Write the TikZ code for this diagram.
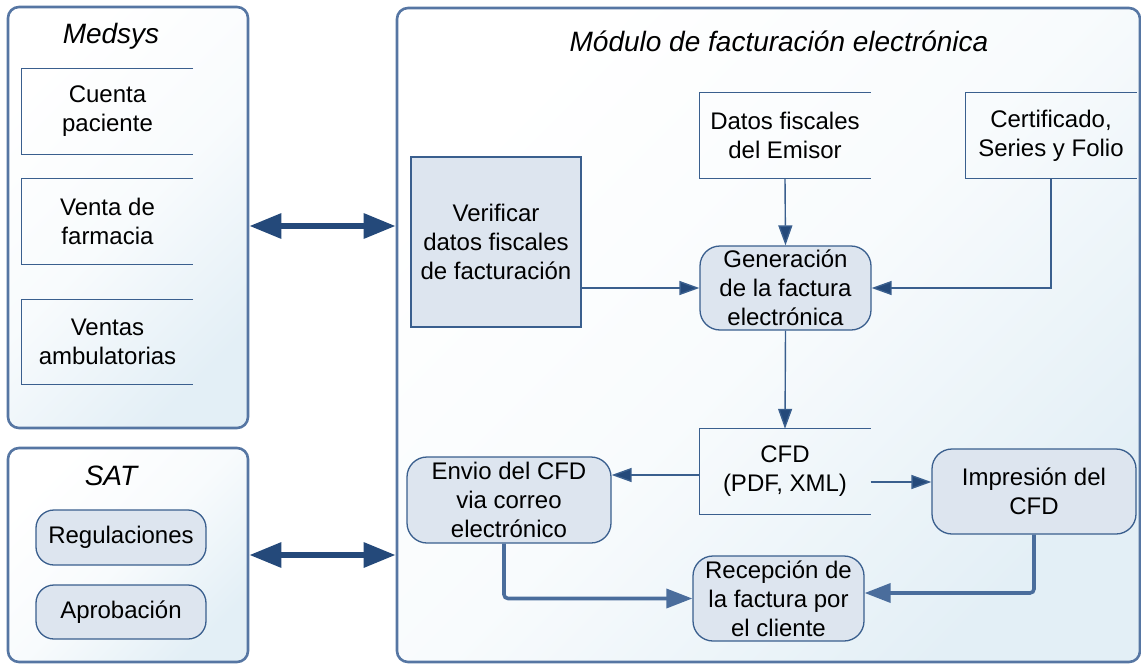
\documentclass[tikz,border=0pt]{standalone}
\usepackage{fontspec}
\setmainfont{Liberation Sans}
\usetikzlibrary{arrows.meta}
\definecolor{ln}{HTML}{3A5F8E}
\definecolor{arr}{HTML}{24497A}
\definecolor{boxfill}{HTML}{DDE5EF}
\definecolor{bgblue}{HTML}{E3EFF6}
\definecolor{frame}{HTML}{5676A3}
\definecolor{hatch}{HTML}{4A6D9C}
\begin{document}
\begin{tikzpicture}[x=1pt,y=-1pt,
  font=\fontsize{24}{29}\selectfont,
  container/.style={draw=frame, line width=2.6pt, rounded corners=11pt,
    top color=white, bottom color=bgblue, middle color=white!75!bgblue, shading angle=45, inner sep=0pt},
  ttl/.style={font=\fontsize{28}{32}\selectfont\itshape, anchor=base, inner sep=0pt},
  store/.style={minimum width=171pt, minimum height=85pt, inner sep=0pt, align=center},
  storeline/.style={draw=ln, line width=1.3pt},
  rbox/.style={draw=ln, line width=1.3pt, fill=boxfill, rounded corners=20pt,
    inner sep=0pt, align=center},
  sbox/.style={draw=ln, line width=1.3pt, fill=boxfill, inner sep=0pt, align=center},
  flow/.style={draw=ln, line width=1.4pt, -{Triangle[length=20pt,width=14pt,fill=arr]}},
  hflow/.style={draw=hatch, line width=3.6pt, rounded corners=4pt,
    -{Triangle[length=26pt,width=19pt,fill=hatch]}},
  dbl/.style={draw=arr, line width=6pt,
    {Triangle[length=32pt,width=24pt]}-{Triangle[length=32pt,width=24pt]}}
]
\useasboundingbox (0,0) rectangle (1141,664);

% containers
\node[container, minimum width=240pt, minimum height=421pt] (medsys) at (128,217.5) {};
\node[container, minimum width=240pt, minimum height=214pt] (sat) at (128,555) {};
\node[container, minimum width=743pt, minimum height=654pt] (main) at (768.5,335) {};

\node[ttl] (tmed) at (111,43) {Medsys};
\node[ttl] (tsat) at (111,485) {SAT};
\node[ttl] (tmain) at (779,51) {Módulo de facturación electrónica};

% Medsys data stores
\node[store] (cuenta) at (107.5,111.5) {Cuenta\\paciente};
\node[store] (venta) at (107.5,221.5) {Venta de\\farmacia};
\node[store] (ventas) at (107.5,342) {Ventas\\ambulatorias};
\foreach \n in {cuenta,venta,ventas}
  \draw[storeline] (\n.north east) -- (\n.north west) -- (\n.south west) -- (\n.south east);

% SAT boxes
\node[rbox, rounded corners=18pt, minimum width=170pt, minimum height=55pt] (regul) at (121,537.5) {Regulaciones};
\node[rbox, rounded corners=18pt, minimum width=170pt, minimum height=54pt] (aprob) at (121,612) {Aprobación};

% double arrows
\draw[dbl] ([yshift=-8.5pt]medsys.east) -- ([yshift=-8.5pt]medsys.east -| main.west);
\draw[dbl] (sat.east) -- (sat.east -| main.west);

% main module
\node[sbox, minimum width=170pt, minimum height=170pt] (verif) at (496,242) {Verificar\\datos fiscales\\de facturación};
\node[store] (datos) at (785,135.5) {Datos fiscales\\del Emisor};
\node[store] (cert) at (1051,135.5) {Certificado,\\Series y Folio};
\node[rbox, minimum width=171pt, minimum height=84pt] (gen) at (785.5,288) {Generación\\de la factura\\electrónica};
\node[store] (cfd) at (785,471.5) {CFD\\(PDF, XML)};
\foreach \n in {datos,cert,cfd}
  \draw[storeline] (\n.north east) -- (\n.north west) -- (\n.south west) -- (\n.south east);
\node[rbox, minimum width=204pt, minimum height=86pt] (envio) at (509,500) {Envio del CFD\\via correo\\electrónico};
\node[rbox, minimum width=204pt, minimum height=85pt] (impr) at (1034,491.5) {Impresión del\\CFD};
\node[rbox, minimum width=171pt, minimum height=85pt] (recep) at (778.5,598.5) {Recepción de\\la factura por\\el cliente};

% connectors
\draw[flow] (verif.east |- gen.west) -- (gen.west);
\draw[flow] (datos.south) -- (gen.north);
\draw[flow] (cert.south) |- (gen.east);
\draw[flow] (gen.south) -- (cfd.north);
\draw[flow] ([yshift=-3.5pt]cfd.west) -- ([yshift=-3.5pt]cfd.west -| envio.east);
\draw[flow] ([yshift=-10.5pt]cfd.east) -- ([yshift=-10.5pt]cfd.east -| impr.west);
\draw[hflow] ([xshift=-5pt]envio.south) |- (recep.west);
\draw[hflow] (impr.south) |- ([yshift=5.5pt]recep.east);
\end{tikzpicture}
\end{document}
